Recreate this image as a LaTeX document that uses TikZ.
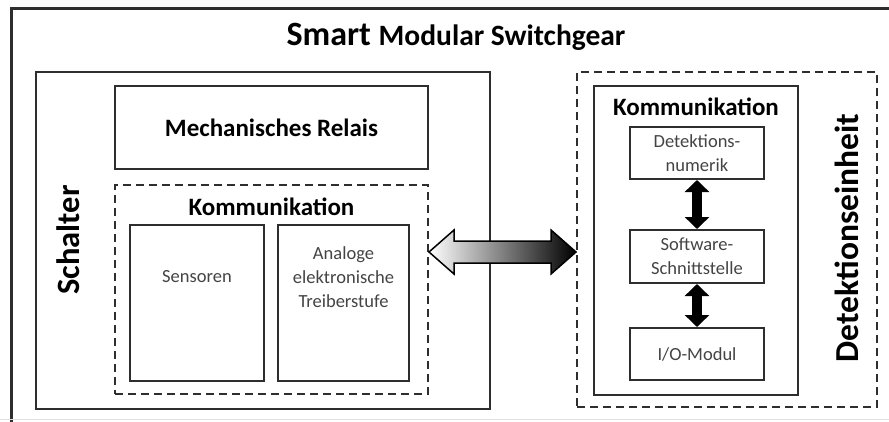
\documentclass[tikz,border=0pt]{standalone}
\usepackage{fontspec}
\setmainfont{Carlito}
\usetikzlibrary{arrows.meta,calc}
\definecolor{frame}{HTML}{2E2E2E}
\definecolor{smalltext}{HTML}{444444}
\tikzset{
  box/.style={draw=frame, line width=2pt, minimum width=#1, inner sep=0pt},
  dashbox/.style={draw=frame, line width=2pt, dash pattern=on 8pt off 5pt, inner sep=0pt},
  heading/.style={font=\bfseries\fontsize{25}{27}\selectfont, text=black, inner sep=0pt},
  sidelabel/.style={font=\bfseries\fontsize{32.5}{34}\selectfont, text=black, rotate=90, inner sep=0pt},
  small/.style={font=\fontsize{18.5}{24}\selectfont, text=smalltext, align=center, inner sep=0pt},
  linkarrow/.style={line width=10pt, {Triangle[width=24pt,length=12pt]}-{Triangle[width=24pt,length=12pt]}}
}
\begin{document}
\begin{tikzpicture}[x=1pt, y=-1pt]
  \useasboundingbox (0,0) rectangle (889,421);
  \clip (0,0) rectangle (889,421);
  \fill[white] (0,0) rectangle (889,421);

  % outer frame, only its top and left edges lie inside the picture
  \node[draw=frame, line width=2.5pt, minimum width=900pt, minimum height=430pt, anchor=north west, inner sep=0pt] (outer) at (10,7) {};
  \draw[black!12, line width=1pt] (0,419.5) -- (889,419.5);

  % title
  \node[inner sep=0pt] (title) at (456,37) {\bfseries\fontsize{34}{36}\selectfont Smart \fontsize{29.5}{36}\selectfont Modular Switchgear};

  % switch (left block)
  \node[box=454pt, minimum height=337pt] (schalter) at (263,240.5) {};
  \node[sidelabel] (schalterlabel) at (68,240) {Schalter};
  \node[box=313pt, minimum height=83pt] (relais) at (271.5,127.5) {};
  \node[heading] (relaislabel) at (relais.center) {Mechanisches Relais};
  \node[dashbox, minimum width=313pt, minimum height=209pt] (kommL) at (271.5,289.5) {};
  \node[heading] (kommLlabel) at (271.5,207) {Kommunikation};
  \node[box=134pt, minimum height=156pt] (sensoren) at (197,303) {};
  \node[small] (sensorenlabel) at (197,277) {Sensoren};
  \node[box=131pt, minimum height=156pt] (treiber) at (343.5,303) {};
  \node[small] (treiberlabel) at (343.5,277) {Analoge\\elektronische\\Treiberstufe};

  % detection unit (right block)
  \node[dashbox, minimum width=300pt, minimum height=335pt] (detect) at (727,239.5) {};
  \node[sidelabel, font=\bfseries\fontsize{33.5}{35}\selectfont] (detectlabel) at (847,238) {Detektionseinheit};
  \node[box=204pt, minimum height=309pt] (kommR) at (696,240.5) {};
  \node[heading] (kommRlabel) at (696,107) {Kommunikation};
  \node[box=134pt, minimum height=52pt, small] (numerik) at (697,153) {Detektions-\\numerik};
  \node[box=134pt, minimum height=53pt, small] (software) at (697,256.5) {Software-\\Schnittstelle};
  \node[box=134pt, minimum height=52pt, small] (io) at (697,354) {I/O-Modul};

  % internal links
  \draw[linkarrow] (numerik.south) -- (software.north);
  \draw[linkarrow] (software.south) -- (io.north);

  % shaded double arrow between both blocks
  \coordinate (tipL) at (kommL.east |- 0,252);
  \coordinate (tipR) at (detect.west |- 0,252);
  \path[draw=black, line width=1.5pt, line join=miter, left color=white, middle color=white, right color=black]
    (tipL) -- ($(tipL)+(25,-22)$) -- ($(tipL)+(25,-11)$) -- ($(tipR)+(-25,-11)$) -- ($(tipR)+(-25,-22)$)
    -- (tipR) -- ($(tipR)+(-25,22)$) -- ($(tipR)+(-25,11)$) -- ($(tipL)+(25,11)$) -- ($(tipL)+(25,22)$) -- cycle;
\end{tikzpicture}
\end{document}
